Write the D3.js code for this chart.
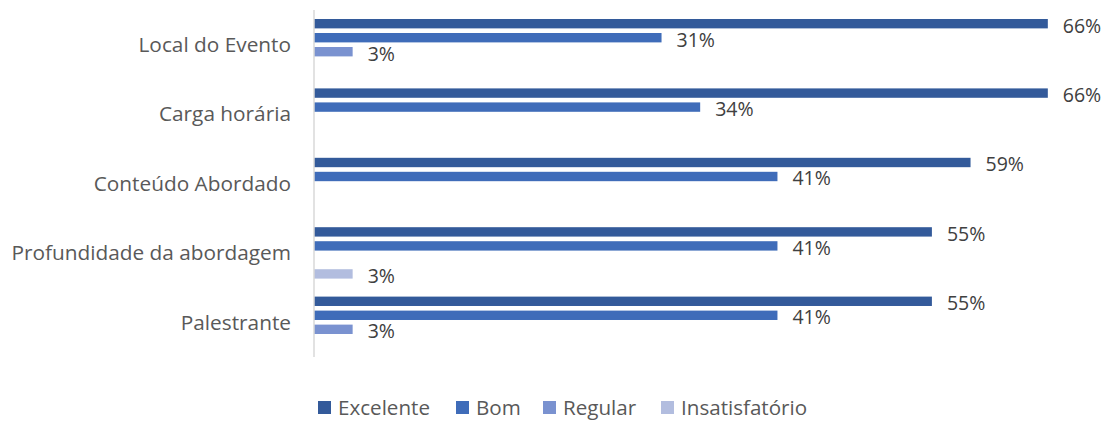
<!DOCTYPE html>
<html>
<head>
<meta charset="utf-8">
<script src="https://cdn.jsdelivr.net/npm/d3@7"></script>
<style>
  body { margin: 0; background: #fff; }
  svg { display: block; font-family: "Open Sans", "Noto Sans", sans-serif; }
</style>
</head>
<body>
<svg id="chart" width="1113" height="422"></svg>
<script>
// Chart data (percent of respondents)
const categories = ["Local do Evento", "Carga horária", "Conteúdo Abordado", "Profundidade da abordagem", "Palestrante"];
const seriesNames = ["Excelente", "Bom", "Regular", "Insatisfatório"];
const excelente = [65.52, 65.52, 58.62, 55.17, 55.17];
const bom = [31.03, 34.48, 41.38, 41.38, 41.38];
const regular = [3.45, 0, 0, 0, 3.45];
const insatisfatorio = [0, 0, 0, 3.45, 0];
const seriesValues = [excelente, bom, regular, insatisfatorio];
const colours = ["#335a9a", "#3f6cb9", "#7a92d0", "#b2bddf"];

const svg = d3.select("#chart");
const axisX = 314;

const x = d3.scaleLinear().domain([0, 70]).range([axisX, axisX + 784]);
const y = d3.scaleBand().domain(categories).range([10, 357]).paddingInner(0).paddingOuter(0);
const inner = d3.scaleBand().domain(seriesNames)
    .range([9, y.bandwidth() - 9]).paddingInner(0.33).paddingOuter(0);

const fmt = v => d3.format(".0f")(v) + "%";

// Bars, one group per category
const rows = categories.map((c, i) => ({
    category: c,
    items: seriesNames.map((s, j) => ({ series: s, value: seriesValues[j][i], colour: colours[j] }))
        .filter(d => d.value > 0)
}));

const groups = svg.selectAll(".cat")
    .data(rows)
    .enter().append("g")
    .attr("class", "cat")
    .attr("transform", d => `translate(0,${y(d.category)})`);

groups.selectAll("rect")
    .data(d => d.items)
    .enter().append("rect")
    .attr("x", axisX)
    .attr("y", d => inner(d.series))
    .attr("width", d => x(d.value) - axisX)
    .attr("height", inner.bandwidth())
    .attr("fill", d => d.colour);

groups.selectAll("text.val")
    .data(d => d.items)
    .enter().append("text")
    .attr("class", "val")
    .attr("x", d => x(d.value) + 15)
    .attr("y", d => inner(d.series) + inner.bandwidth() / 2 + 2)
    .attr("dy", "0.35em")
    .attr("font-size", 19.5)
    .attr("fill", "#404040")
    .text(d => fmt(d.value));

// Category axis
svg.append("line")
    .attr("x1", axisX).attr("x2", axisX)
    .attr("y1", 10).attr("y2", 357)
    .attr("stroke", "#d9d9d9")
    .attr("stroke-width", 1.5);

svg.selectAll(".catlabel")
    .data(categories)
    .enter().append("text")
    .attr("class", "catlabel")
    .attr("x", 291)
    .attr("y", d => y(d) + y.bandwidth() / 2)
    .attr("dy", "0.35em")
    .attr("text-anchor", "end")
    .attr("font-size", 20.8)
    .attr("fill", "#595959")
    .text(d => d);

// Legend
const legendX = [318, 456, 543, 661];
const legend = svg.selectAll(".legend")
    .data(seriesNames)
    .enter().append("g")
    .attr("class", "legend")
    .attr("transform", (d, i) => `translate(${legendX[i]},408)`);

legend.append("rect")
    .attr("x", 0).attr("y", -7)
    .attr("width", 13).attr("height", 13)
    .attr("fill", (d, i) => colours[i]);

legend.append("text")
    .attr("x", 20)
    .attr("dy", "0.35em")
    .attr("font-size", 20.6)
    .attr("fill", "#595959")
    .text(d => d);
</script>
</body>
</html>
